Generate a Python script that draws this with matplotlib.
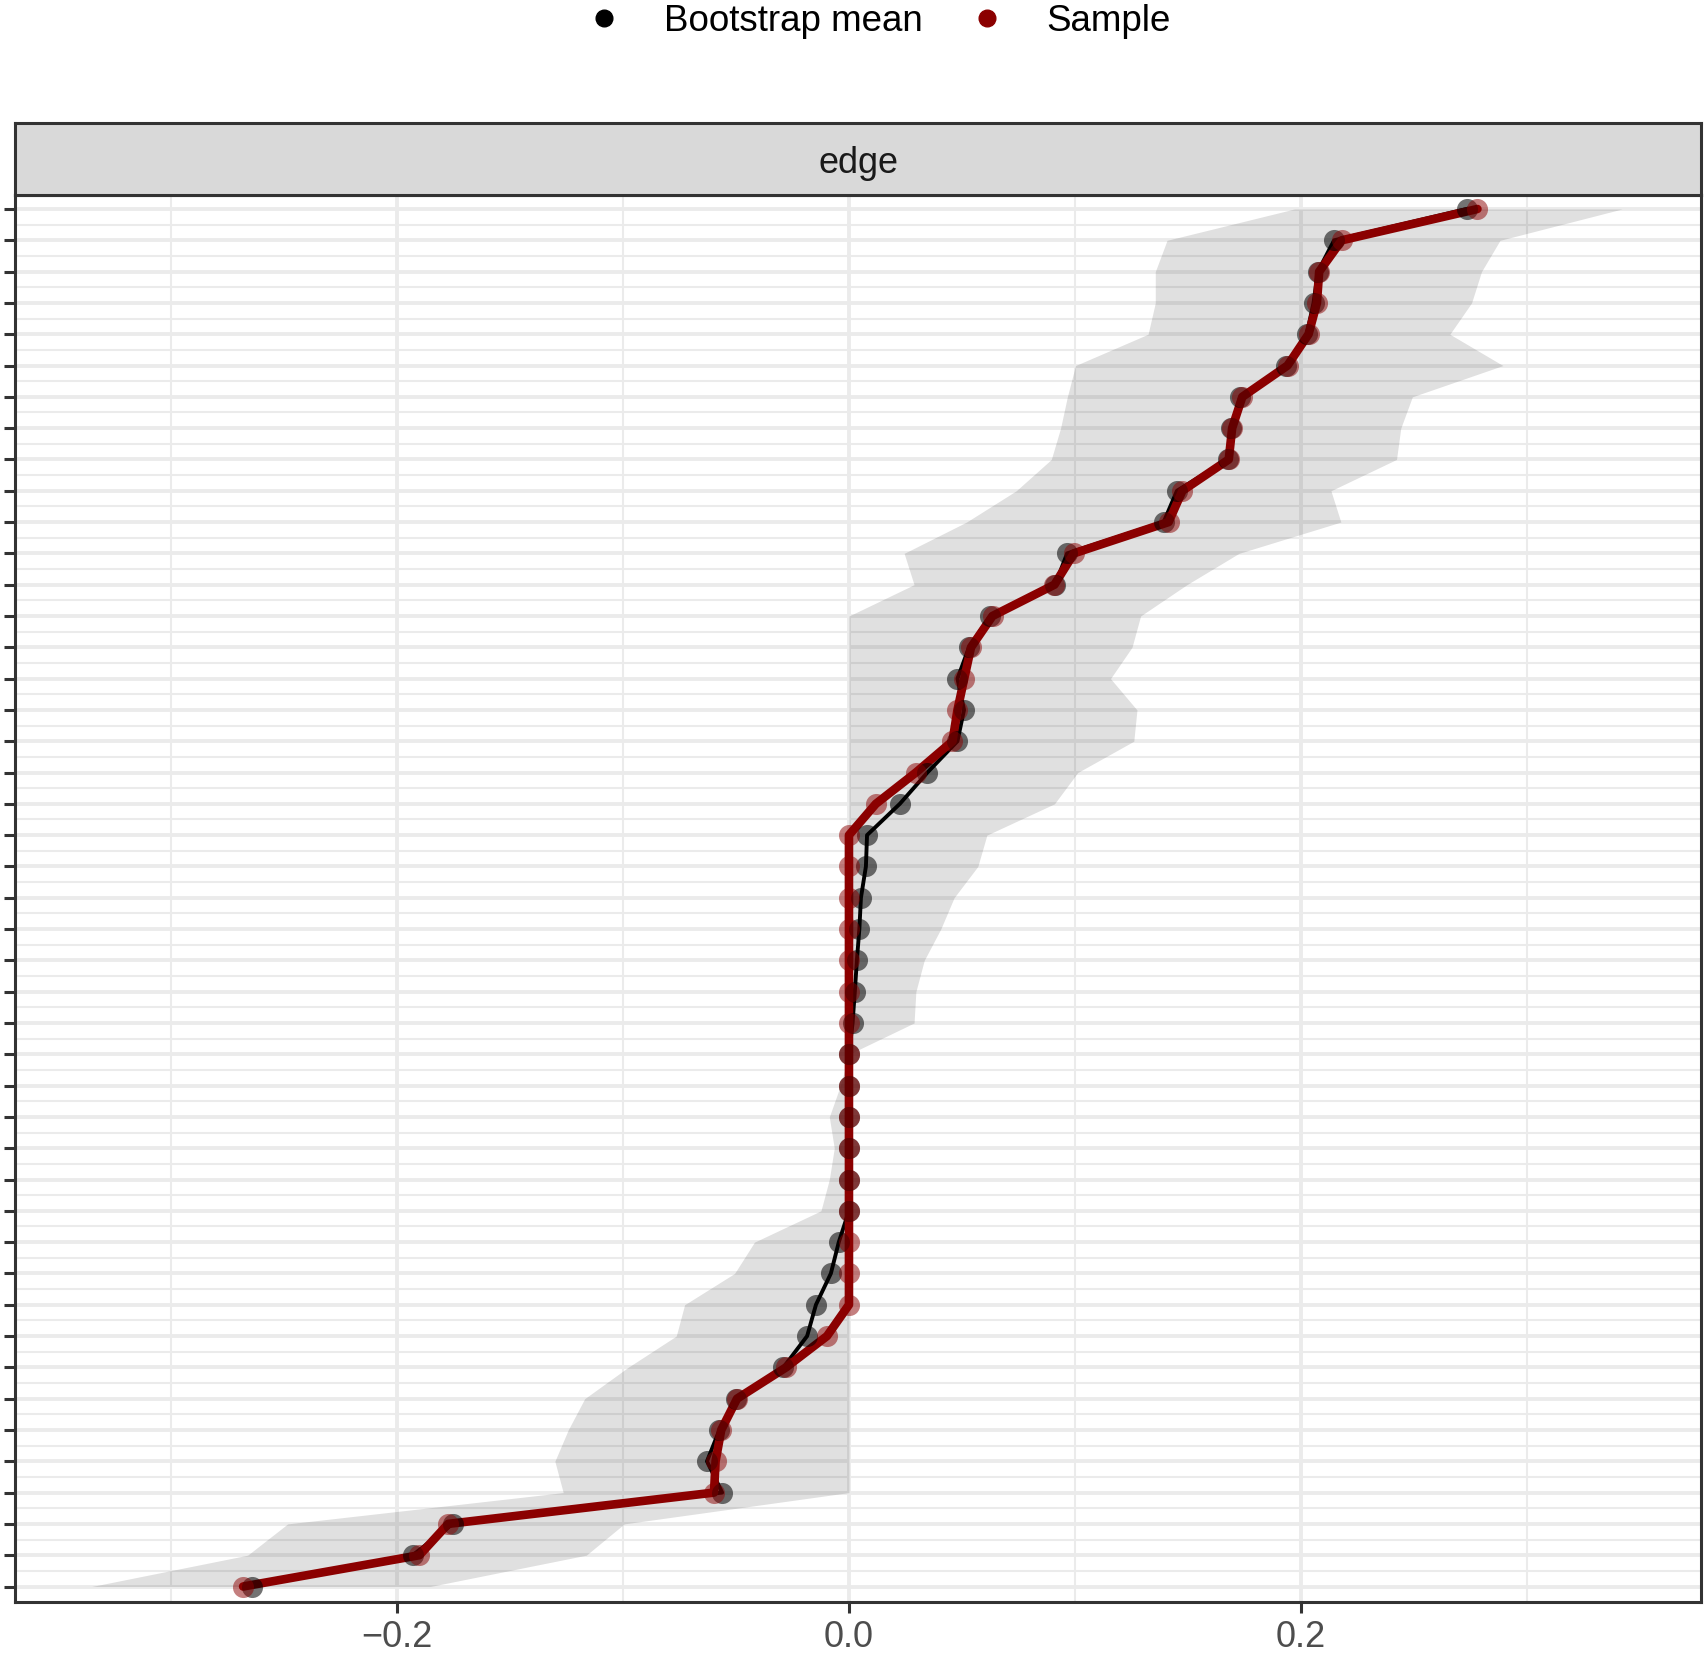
import numpy as np
import matplotlib
matplotlib.use("Agg")
import matplotlib.pyplot as plt
from matplotlib.lines import Line2D

plt.rcParams['font.family'] = ['Liberation Sans', 'DejaVu Sans']

# ---- data (rows listed from top to bottom) ----
sample = [0.278, 0.218, 0.208, 0.207, 0.2033, 0.194, 0.174, 0.1695, 0.168, 0.1475,
          0.1414, 0.0995, 0.0909, 0.0635, 0.054, 0.051, 0.048, 0.0458, 0.0296, 0.0119,
          0.0, 0.0, 0.0, 0.0, 0.0, 0.0, 0.0, 0.0, 0.0, 0.0,
          0.0, 0.0, 0.0, 0.0, 0.0, 0.0, -0.0097, -0.0278, -0.0495, -0.0565,
          -0.059, -0.0597, -0.1773, -0.190, -0.268]
boot_mean = [0.2732, 0.2146, 0.2074, 0.2055, 0.2025, 0.1934, 0.1731, 0.1691, 0.1676, 0.1451,
             0.1392, 0.0965, 0.0912, 0.0625, 0.0531, 0.048, 0.0509, 0.048, 0.0347, 0.0225,
             0.008, 0.0075, 0.0053, 0.0046, 0.0035, 0.0026, 0.0016, 0.0, 0.0, 0.0,
             0.0, 0.0, 0.0, -0.0045, -0.008, -0.0146, -0.0185, -0.029, -0.0499, -0.0573,
             -0.0628, -0.0561, -0.1753, -0.193, -0.264]
ci_lower = [0.197, 0.1407, 0.1355, 0.1355, 0.1323, 0.1002, 0.0966, 0.0936, 0.0895, 0.074,
            0.052, 0.0244, 0.0288, 0.0, 0.0, 0.0, 0.0, 0.0, 0.0, 0.0,
            0.0, 0.0, 0.0, 0.0, 0.0, 0.0, 0.0, 0.0, -0.0038, -0.0087,
            -0.0065, -0.0087, -0.0124, -0.0418, -0.0506, -0.0727, -0.0764, -0.0977, -0.1169, -0.1242,
            -0.1301, -0.1264, -0.2483, -0.266, -0.335]
ci_upper = [0.342, 0.288, 0.2798, 0.2754, 0.2658, 0.2893, 0.2492, 0.2441, 0.2422, 0.2132,
            0.2176, 0.1725, 0.1495, 0.129, 0.1252, 0.1157, 0.1274, 0.126, 0.1012, 0.0909,
            0.061, 0.057, 0.0465, 0.0406, 0.0333, 0.0296, 0.0288, 0.0, 0.0, 0.0,
            0.0, 0.0, 0.0, 0.0, 0.0, 0.0, 0.0, 0.0, 0.0, 0.0,
            0.0, 0.0, -0.0994, -0.1162, -0.1852]
x_ticks = [-0.2, 0.0, 0.2]
x_minor = [-0.3, -0.1, 0.1, 0.3]
legend_labels = ["Bootstrap mean", "Sample"]
strip_label = "edge"

n = len(sample)
y = np.arange(n, 0, -1)  # top row highest

RED = "#8B0000"
W, H = 1707, 1655
fig = plt.figure(figsize=(W / 100, H / 100), dpi=100)
fig.patch.set_facecolor("white")

ax = fig.add_axes([15 / W, 53 / H, 1686 / W, 1407 / H])
ax.set_axisbelow(True)
ax.set_facecolor("white")

ax.fill_betweenx(y, ci_lower, ci_upper, color="black", alpha=0.12, linewidth=0, zorder=1)
ax.plot(boot_mean, y, color="black", lw=2.8, zorder=3, solid_joinstyle="round")
ax.plot(sample, y, color=RED, lw=6.2, zorder=4, solid_joinstyle="round", solid_capstyle="round")
ax.scatter(boot_mean, y, s=230, color="black", alpha=0.55, linewidths=0, zorder=5)
ax.scatter(sample, y, s=230, color=RED, alpha=0.5, linewidths=0, zorder=6)

ax.set_xlim(-0.3689, 0.3769)
ax.set_ylim(0.505, n + 0.447)
ax.set_xticks(x_ticks)
ax.set_xticklabels([f"{v:.1f}".replace("-", "\u2212") for v in x_ticks])
ax.set_xticks(x_minor, minor=True)
ax.set_yticks(y)
ax.set_yticklabels([])
ax.set_yticks(np.arange(1.5, n, 1.0), minor=True)

ax.grid(True, which="major", color="#EBEBEB", lw=2.8)
ax.grid(True, which="minor", color="#EBEBEB", lw=1.5)
ax.tick_params(axis="both", which="major", length=8, width=2.2, color="#333333",
               labelsize=26, labelcolor="#4D4D4D", pad=5)
ax.tick_params(axis="both", which="minor", length=0)
for s in ax.spines.values():
    s.set_color("#333333")
    s.set_linewidth(2.2)

# strip
st = fig.add_axes([15 / W, 1 - 195 / H, 1686 / W, 72 / H])
st.set_facecolor("#D9D9D9")
st.set_xticks([])
st.set_yticks([])
for s in st.spines.values():
    s.set_color("#333333")
    s.set_linewidth(2.2)
st.text(0.5, 0.44, strip_label, ha="center", va="center", fontsize=26, color="#1A1A1A",
        transform=st.transAxes)

# legend (top)
leg_colors = ["black", RED]
dot_x = [604 / W, 986.5 / W]
txt_x = [664 / W, 1046 / W]
for lab, c, dx, tx in zip(legend_labels, leg_colors, dot_x, txt_x):
    fig.add_artist(Line2D([dx], [1 - 18 / H], marker="o", markersize=12, color=c,
                          linestyle="none", transform=fig.transFigure))
    fig.text(tx, 1 - 31 / H, lab, ha="left", va="baseline", fontsize=26.5, color="black")

fig.savefig("out.png", dpi=100, facecolor="white")
